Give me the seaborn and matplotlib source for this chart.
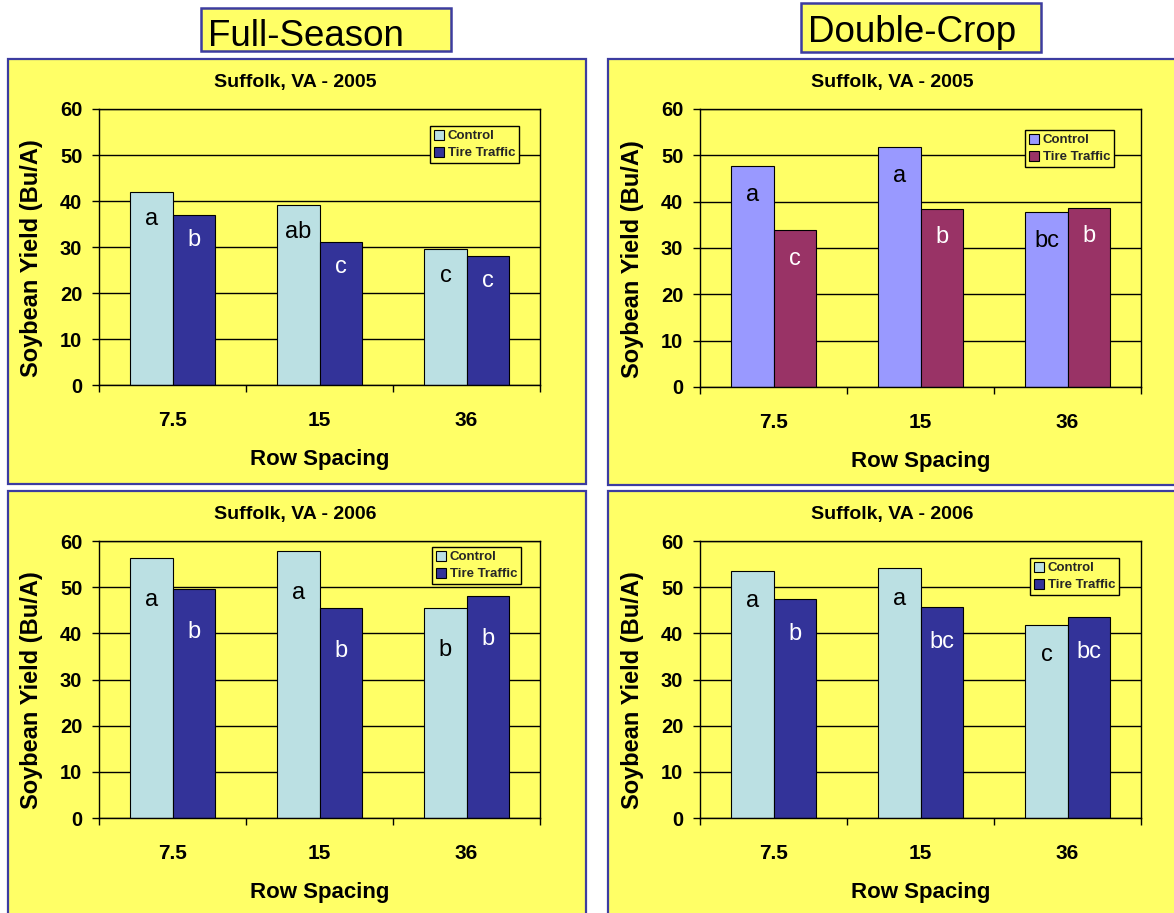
import matplotlib
matplotlib.use('Agg')
import matplotlib.pyplot as plt
from matplotlib.patches import Rectangle, Patch
import pandas as pd
import seaborn as sns

# ---------------- data ----------------
spacing = ['7.5', '15', '36']
treatments = ['Control', 'Tire Traffic']

fs2005_control = [42.0, 39.2, 29.6]
fs2005_tire = [36.9, 31.0, 28.1]
fs2005_letters_control = ['a', 'ab', 'c']
fs2005_letters_tire = ['b', 'c', 'c']

dc2005_control = [47.6, 51.7, 37.7]
dc2005_tire = [33.8, 38.4, 38.7]
dc2005_letters_control = ['a', 'a', 'bc']
dc2005_letters_tire = ['c', 'b', 'b']

fs2006_control = [56.4, 57.9, 45.5]
fs2006_tire = [49.5, 45.5, 48.1]
fs2006_letters_control = ['a', 'a', 'b']
fs2006_letters_tire = ['b', 'b', 'b']

dc2006_control = [53.6, 54.1, 41.8]
dc2006_tire = [47.4, 45.7, 43.6]
dc2006_letters_control = ['a', 'a', 'c']
dc2006_letters_tire = ['b', 'bc', 'bc']

panel_titles = ['Suffolk, VA - 2005', 'Suffolk, VA - 2005',
                'Suffolk, VA - 2006', 'Suffolk, VA - 2006']
column_titles = ['Full-Season', 'Double-Crop']

# ---------------- style ----------------
W, H = 1174, 913
sns.set_theme(style='white')
plt.rcParams['font.family'] = ['Liberation Sans', 'DejaVu Sans']

YELLOW = '#FFFF66'
BORDER = '#3C3CA0'
CYAN = '#BBE0E3'
NAVY = '#333399'
LILAC = '#9999FF'
PLUM = '#993366'

fig = plt.figure(figsize=(W / 100, H / 100), dpi=100)
fig.patch.set_facecolor('white')


def fx(x):
    return x / W


def fy(y):
    return 1 - y / H


def frame(x0, y0, x1, y1, lw=1.6):
    fig.add_artist(Rectangle((fx(x0), fy(y1)), (x1 - x0) / W, (y1 - y0) / H,
                             transform=fig.transFigure, facecolor=YELLOW,
                             edgecolor=BORDER, lw=lw, zorder=-1))


# column title boxes: (box, text baseline y)
for (x0, y0, x1, y1), base, txt in zip([(201, 8, 451, 51), (801, 3, 1041, 52)],
                                       [46.5, 42], column_titles):
    frame(x0, y0, x1, y1, lw=1.8)
    fig.text(fx(x0 + 7), fy(base), txt, fontsize=26.5, ha='left',
             va='baseline', color='black')

panels = [
    dict(frame=(8, 59, 586, 484), axes=(99, 109, 540, 385), title_y=83,
         title_x=295,
         control=fs2005_control, tire=fs2005_tire,
         lc=fs2005_letters_control, lt=fs2005_letters_tire,
         colors=[CYAN, NAVY], off=(5.9, 5.4), leg=(430, 126)),
    dict(frame=(608, 59, 1180, 485), axes=(700, 109, 1141, 387), title_y=83,
         title_x=892,
         control=dc2005_control, tire=dc2005_tire,
         lc=dc2005_letters_control, lt=dc2005_letters_tire,
         colors=[LILAC, PLUM], off=(6.2, 6.1), leg=(1025, 130)),
    dict(frame=(8, 491, 586, 920), axes=(99, 541, 540, 818), title_y=515,
         title_x=295,
         control=fs2006_control, tire=fs2006_tire,
         lc=fs2006_letters_control, lt=fs2006_letters_tire,
         colors=[CYAN, NAVY], off=(9.2, 9.3), leg=(432, 547)),
    dict(frame=(608, 491, 1180, 920), axes=(700, 541, 1141, 818), title_y=515,
         title_x=892,
         control=dc2006_control, tire=dc2006_tire,
         lc=dc2006_letters_control, lt=dc2006_letters_tire,
         colors=[CYAN, NAVY], off=(6.6, 7.6), leg=(1030, 558)),
]

for p, ptitle in zip(panels, panel_titles):
    px0, py0, px1, py1 = p['frame']
    frame(px0, py0, px1, py1)
    ax0, ay0, ax1, ay1 = p['axes']
    ax = fig.add_axes([fx(ax0), fy(ay1), (ax1 - ax0) / W, (ay1 - ay0) / H])
    ax.set_facecolor('none')

    df = pd.DataFrame({
        'Row Spacing': spacing * 2,
        'Yield': p['control'] + p['tire'],
        'Treatment': [treatments[0]] * len(spacing) + [treatments[1]] * len(spacing),
    })
    sns.barplot(data=df, x='Row Spacing', y='Yield', hue='Treatment',
                order=spacing, hue_order=treatments, palette=p['colors'],
                width=0.573, gap=0, edgecolor='black', linewidth=0.8,
                saturation=1, errorbar=None, legend=False, ax=ax)

    ax.set_xlim(-0.5, len(spacing) - 0.5)
    ax.set_ylim(0, 60)
    ax.set_yticks(range(0, 61, 10))
    ax.set_axisbelow(True)
    ax.yaxis.grid(True, color='black', lw=1)
    ax.xaxis.grid(False)
    for s in ax.spines.values():
        s.set_visible(True)
        s.set_color('black')
        s.set_linewidth(1)

    ax.set_xticks([i - 0.5 for i in range(len(spacing) + 1)], minor=True)
    ax.tick_params(axis='x', which='major', length=0, pad=19, labelsize=15,
                   bottom=True)
    ax.tick_params(axis='x', which='minor', length=5, width=1, color='black',
                   direction='out', bottom=True)
    ax.tick_params(axis='y', which='major', length=5, width=1, color='black',
                   direction='out', left=True, pad=7, labelsize=14.5)
    for lab in ax.get_xticklabels() + ax.get_yticklabels():
        lab.set_fontweight('bold')
        lab.set_color('black')

    ax.set_xlabel('Row Spacing', fontsize=16, fontweight='bold', color='black')
    ax.xaxis.label.set_va('center')
    ax.xaxis.set_label_coords(0.5, -(459 - 385) / 276)
    ax.set_ylabel('Soybean Yield (Bu/A)', fontsize=17, fontweight='bold',
                  color='black')
    ax.yaxis.label.set_va('center')
    ax.yaxis.set_label_coords(-67 / (ax1 - ax0), 0.46)

    fig.text(fx(p['title_x']), fy(p['title_y']), ptitle, fontsize=14,
             fontweight='bold', ha='center', va='center', color='black')

    # significance letters
    letter_sets = [(p['lc'], 'black', p['off'][0]), (p['lt'], 'white', p['off'][1])]
    for cont, (letters, tcol, off) in zip(ax.containers, letter_sets):
        for bar, letter in zip(cont, letters):
            ax.text(bar.get_x() + bar.get_width() / 2, bar.get_height() - off,
                    letter, ha='center', va='center', fontsize=17, color=tcol)

    handles = [Patch(facecolor=c, edgecolor='black', lw=0.8) for c in p['colors']]
    lx, ly = p['leg']
    leg = ax.legend(handles, treatments, loc='upper left',
                    bbox_to_anchor=((lx - ax0) / (ax1 - ax0), (ay1 - ly) / (ay1 - ay0)),
                    frameon=True, fancybox=False, edgecolor='black',
                    facecolor=YELLOW, framealpha=1,
                    prop=dict(weight='bold', size=9.5),
                    handlelength=0.75, handleheight=0.75, handletextpad=0.3,
                    borderpad=0.3, labelspacing=0.35, borderaxespad=0)
    leg.get_frame().set_linewidth(1)

fig.savefig('out.png', dpi=100, facecolor='white')
